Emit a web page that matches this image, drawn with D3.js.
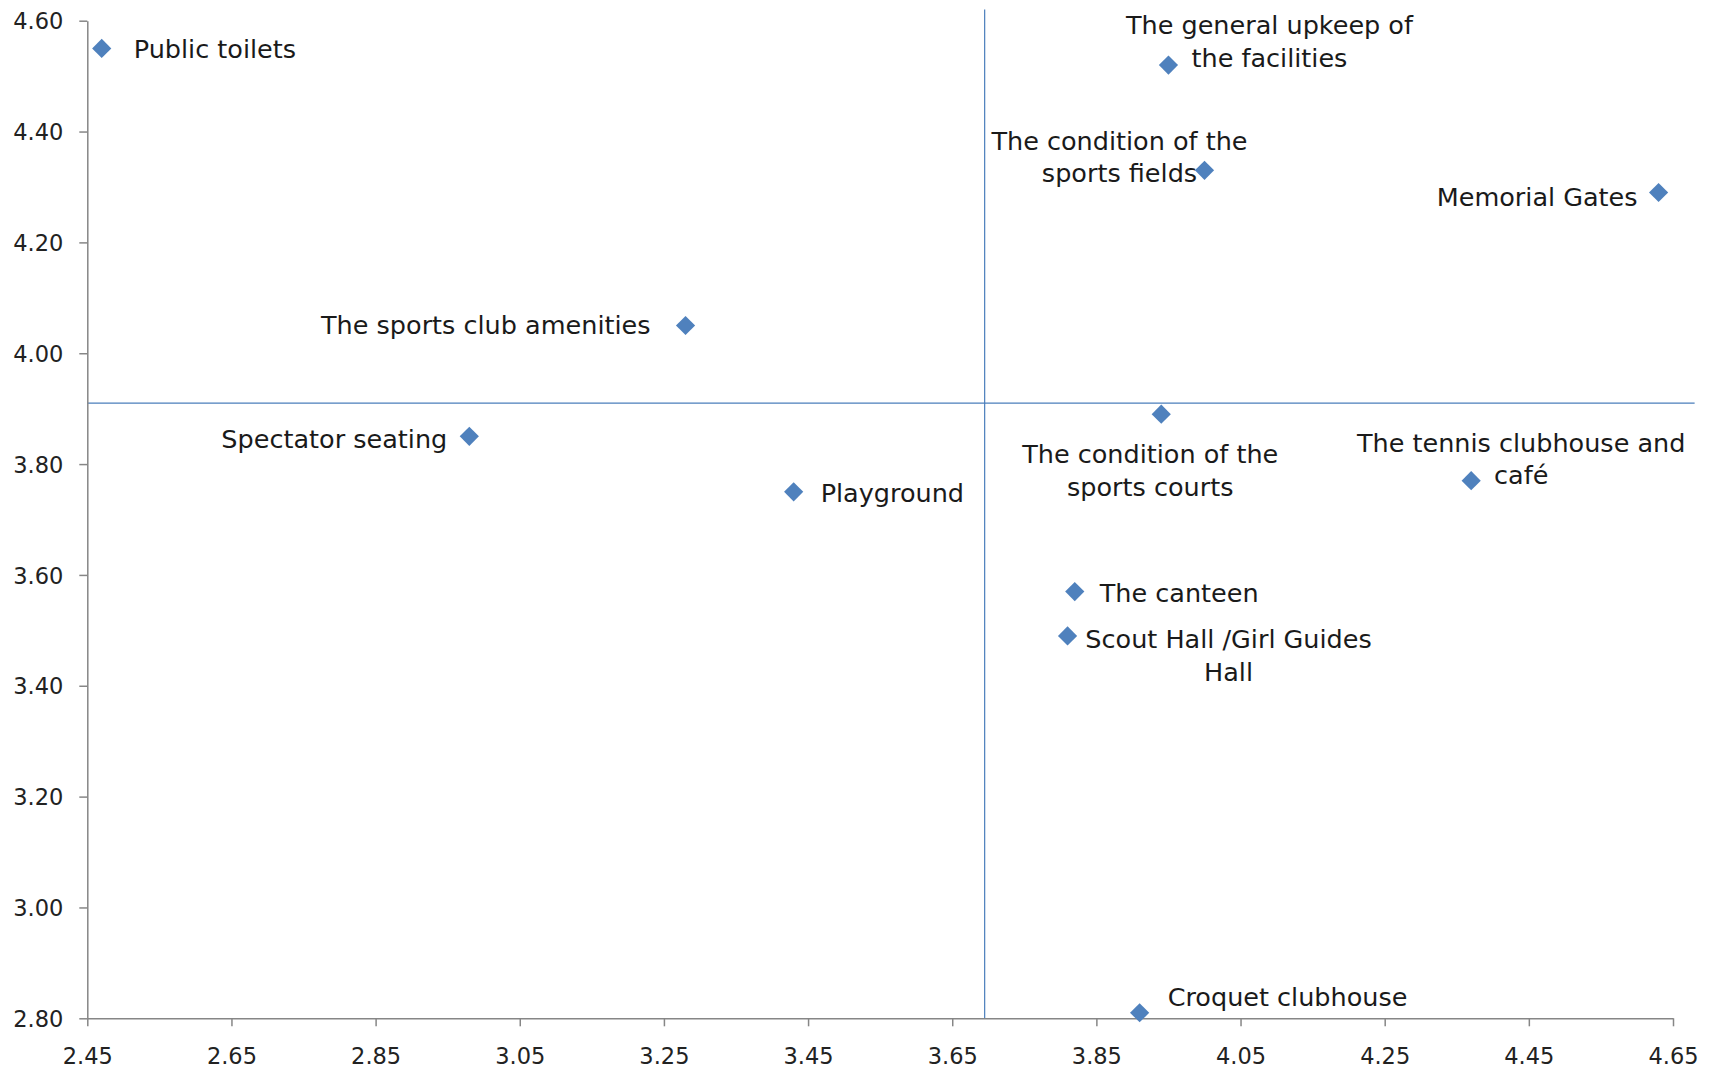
<!DOCTYPE html>
<html>
<head>
<meta charset="utf-8">
<script src="https://cdn.jsdelivr.net/npm/d3@7"></script>
<style>
  html, body { margin: 0; padding: 0; background: #ffffff; }
  svg { display: block; }
</style>
</head>
<body>
<svg id="chart" width="1718" height="1069"></svg>
<script>
// ---- data ----
const labels = [
  ["Public toilets"],
  ["The general upkeep of", "the facilities"],
  ["The condition of the", "sports fields"],
  ["Memorial Gates"],
  ["The sports club amenities"],
  ["Spectator seating"],
  ["Playground"],
  ["The condition of the", "sports courts"],
  ["The tennis clubhouse and", "café"],
  ["The canteen"],
  ["Scout Hall /Girl Guides", "Hall"],
  ["Croquet clubhouse"]
];
const xValues = [2.47, 3.95, 4.00, 4.63, 3.28, 2.98, 3.43, 3.94, 4.37, 3.82, 3.81, 3.91];
const yValues = [4.55, 4.52, 4.33, 4.29, 4.05, 3.85, 3.75, 3.89, 3.77, 3.57, 3.49, 2.81];
const xTicks = [2.45, 2.65, 2.85, 3.05, 3.25, 3.45, 3.65, 3.85, 4.05, 4.25, 4.45, 4.65];
const yTicks = [2.80, 3.00, 3.20, 3.40, 3.60, 3.80, 4.00, 4.20, 4.40, 4.60];
const xDivider = 3.695;  // vertical quadrant line
const yDivider = 3.91;   // horizontal quadrant line
const xDividerExtent = [2.45, 4.68];
const yDividerExtent = [2.80, 4.62];

// ---- label placement (presentation only) ----
const labelPlacement = [
  {anchor: "start",  dx: 32,  dy: 0},
  {anchor: "middle", dx: 101, dy: -40},
  {anchor: "middle", dx: -85, dy: -30},
  {anchor: "end",    dx: -21, dy: 4},
  {anchor: "end",    dx: -35, dy: -1},
  {anchor: "end",    dx: -22, dy: 2},
  {anchor: "start",  dx: 27,  dy: 1},
  {anchor: "middle", dx: -11, dy: 40},
  {anchor: "middle", dx: 50,  dy: -38},
  {anchor: "start",  dx: 25,  dy: 1},
  {anchor: "middle", dx: 161, dy: 3},
  {anchor: "start",  dx: 28,  dy: -16}
];

const points = labels.map((l, i) => ({label: l, x: xValues[i], y: yValues[i], place: labelPlacement[i]}));

// ---- layout ----
const margin = {left: 87.3, right: 1718 - 1673, top: 20.7, bottom: 1069 - 1018.3};
const W = 1718, H = 1069;
const svg = d3.select("#chart");

const x = d3.scaleLinear().domain([2.45, 4.65]).range([margin.left, W - margin.right]);
const y = d3.scaleLinear().domain([2.80, 4.60]).range([H - margin.bottom, margin.top]);

const axisColor = "#868686";
const font = "'DejaVu Sans', sans-serif";

// quadrant lines
svg.append("line")
  .attr("x1", x(xDivider)).attr("x2", x(xDivider))
  .attr("y1", y(yDividerExtent[0])).attr("y2", y(yDividerExtent[1]))
  .attr("stroke", "#4A7EBB").attr("stroke-width", 1.2);
svg.append("line")
  .attr("x1", x(xDividerExtent[0])).attr("x2", x(xDividerExtent[1]))
  .attr("y1", y(yDivider)).attr("y2", y(yDivider))
  .attr("stroke", "#4A7EBB").attr("stroke-width", 1.2);

// axes
const xAxis = d3.axisBottom(x).tickValues(xTicks).tickFormat(d3.format(".2f")).tickSizeOuter(0).tickSizeInner(8).tickPadding(22);
const yAxis = d3.axisLeft(y).tickValues(yTicks).tickFormat(d3.format(".2f")).tickSizeOuter(0).tickSizeInner(8).tickPadding(16);

const gx = svg.append("g").attr("transform", `translate(0,${H - margin.bottom})`).call(xAxis);
const gy = svg.append("g").attr("transform", `translate(${margin.left},0)`).call(yAxis);

[gx, gy].forEach(g => {
  g.select(".domain").attr("stroke", axisColor).attr("stroke-width", 1.5);
  g.selectAll(".tick line").attr("stroke", axisColor).attr("stroke-width", 1.5);
  g.selectAll(".tick text").attr("fill", "#222222").style("font-family", font).style("font-size", "22.5px");
});
gy.selectAll(".tick text").attr("dy", "0.36em");

// markers
const diamond = (r) => `M0,${-r}L${r},0L0,${r}L${-r},0Z`;
svg.append("g").selectAll("path").data(points).join("path")
  .attr("d", diamond(9.6))
  .attr("transform", d => `translate(${x(d.x)},${y(d.y)})`)
  .attr("fill", "#4F81BD");

// labels
const lineH = 32.5;
const lg = svg.append("g");
points.forEach(d => {
  const t = lg.append("text")
    .attr("text-anchor", d.place.anchor)
    .style("font-family", font)
    .style("font-size", "25.5px")
    .attr("fill", "#1a1a1a");
  d.label.forEach((line, j) => {
    t.append("tspan")
      .attr("x", x(d.x) + d.place.dx)
      .attr("y", y(d.y) + d.place.dy + j * lineH)
      .attr("dy", "0.36em")
      .text(line);
  });
});
</script>
</body>
</html>
